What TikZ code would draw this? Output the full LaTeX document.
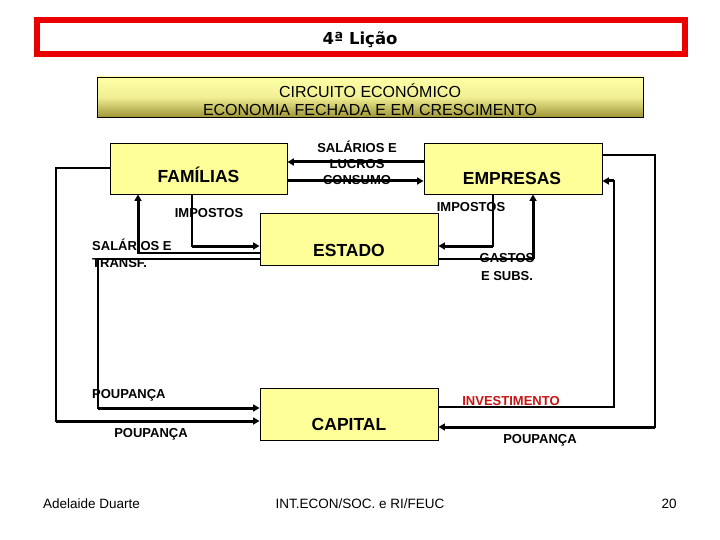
\documentclass[tikz,border=0pt]{standalone}
\usepackage{fontspec}
\setmainfont{Liberation Sans}
\newfontfamily\titlefont{DejaVu Sans}
\usetikzlibrary{arrows.meta}
\definecolor{boxyellow}{RGB}{255,255,153}
\definecolor{hdtop}{RGB}{255,255,165}
\definecolor{hdbot}{RGB}{160,150,55}
\definecolor{titlered}{RGB}{235,0,0}
\definecolor{invred}{RGB}{200,20,20}
\begin{document}
\begin{tikzpicture}[x=1pt,y=-1pt,
  box/.style={draw=black, line width=0.9pt, fill=boxyellow, minimum width=178pt, minimum height=52pt, inner sep=0pt},
  boxtext/.style={font=\fontsize{17.5}{20}\selectfont\bfseries, anchor=base, inner sep=0pt},
  lbl/.style={font=\fontsize{13}{15}\selectfont\bfseries, anchor=base, inner sep=0pt},
  hdtext/.style={font=\fontsize{16}{18}\selectfont, anchor=base, inner sep=0pt},
  foot/.style={font=\fontsize{13.5}{16}\selectfont, anchor=base, inner sep=0pt},
  thinline/.style={line width=1.1pt, line cap=rect},
  thk/.style={line width=3pt, -{Triangle[length=6.5pt,width=7pt]}},
]
\useasboundingbox (0,0) rectangle (720,540);
\fill[white] (0,0) rectangle (720,540);

% title
\draw[titlered, line width=6pt] (37,20) rectangle (685,54);
\node[font=\titlefont\fontsize{16.5}{19}\selectfont\bfseries, anchor=base, inner sep=0pt] (title) at (360,45) {4ª Lição};

% header
\shade[top color=hdtop, bottom color=hdbot, middle color=hdtop!85!hdbot] (97,77) rectangle (643,117);
\node[hdtext] (h1) at (370,97.5) {CIRCUITO ECONÓMICO};
\node[hdtext] (h2) at (370,115.5) {ECONOMIA FECHADA E EM CRESCIMENTO};
\draw[line width=0.9pt] (97,77) rectangle (643,117);

% boxes
\node[box, minimum width=177pt, minimum height=51pt] (fam) at (198.5,168.5) {};
\node[box, minimum height=51pt] (emp) at (513,168.5) {};
\node[box] (est) at (349,239) {};
\node[box] (cap) at (349,414) {};
\node[boxtext] (famt) at (198.5,183) {FAMÍLIAS};
\node[boxtext] (empt) at (512,185) {EMPRESAS};
\node[boxtext] (estt) at (349,256) {ESTADO};
\node[boxtext] (capt) at (349,430) {CAPITAL};

% connectors
\draw[thk] (emp.west |- 0,162) -- (fam.east |- 0,162);
\draw[thk] (fam.east |- 0,181) -- (emp.west |- 0,181);

\draw[thinline] (fam.south -| 192,0) -- (192,246);
\draw[thk] (192,246) -- (est.west |- 0,246);

\draw[thinline] (est.west |- 0,253) -- (138,253);
\draw[thk] (138,253) -- (fam.south -| 138,0);

\draw[thinline] (est.west |- 0,259) -| (98,408);
\draw[thk] (98,408) -- (cap.west |- 0,408);

\draw[thinline] (fam.west |- 0,168) -| (56,421);
\draw[thk] (56,421) -- (cap.west |- 0,421);

\draw[thinline] (emp.south -| 493,0) -- (493,246);
\draw[thk] (493,246) -- (est.east |- 0,246);

\draw[thinline] (est.east |- 0,259) -- (533,259);
\draw[thk] (533,259) -- (emp.south -| 533,0);

\draw[thinline] (emp.east |- 0,155) -| (655,427);
\draw[thk] (655,427) -- (cap.east |- 0,427);

\draw[thinline] (cap.east |- 0,407) -| (614,181);
\draw[thk] (614,181) -- (emp.east |- 0,181);

% labels
\node[lbl] (l1) at (357,152.7) {SALÁRIOS E};
\node[lbl] (l2) at (357,168.7) {LUCROS};
\node[lbl] (l3) at (357,184.7) {CONSUMO};
\node[lbl] (imp1) at (209,217.7) {IMPOSTOS};
\node[lbl] (imp2) at (471,211.7) {IMPOSTOS};
\node[lbl, anchor=base west] (st1) at (92,250.7) {SALÁRIOS E};
\node[lbl, anchor=base west] (st2) at (92,267.7) {TRANSF.};
\node[lbl] (g1) at (507,262.7) {GASTOS};
\node[lbl] (g2) at (507,280.7) {E SUBS.};
\node[lbl, anchor=base west] (p1) at (92,398.7) {POUPANÇA};
\node[lbl] (p2) at (151,437.7) {POUPANÇA};
\node[lbl, text=invred] (inv) at (511,405.7) {INVESTIMENTO};
\node[lbl] (p3) at (540,443.7) {POUPANÇA};

% footer
\node[foot, anchor=base west] (f1) at (43,508) {Adelaide Duarte};
\node[foot] (f2) at (360,508) {INT.ECON/SOC. e RI/FEUC};
\node[foot] (f3) at (669,508) {20};
\end{tikzpicture}
\end{document}
